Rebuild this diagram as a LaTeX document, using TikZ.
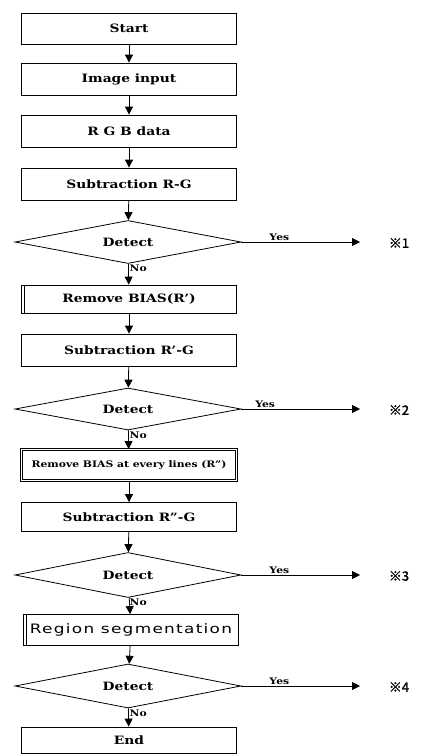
\documentclass[tikz,border=0pt]{standalone}
\usepackage{fontspec}
\setmainfont{DejaVu Serif}[FakeStretch=1.2]
\newfontfamily\regfont{DejaVu Sans}[FakeStretch=1.3,LetterSpace=10]
\newfontfamily\cjk{Noto Sans CJK JP}[FakeBold=1.5]
\usetikzlibrary{shapes.geometric,arrows.meta}
\tikzset{
  box/.style={draw, line width=0.8pt, minimum width=215pt, inner sep=0pt, font=\fontsize{11.5}{13}\selectfont\bfseries},
  dia/.style={draw, diamond, aspect=5, line width=0.8pt, minimum width=226pt, inner sep=0pt, font=\fontsize{11.5}{13}\selectfont\bfseries},
  arr/.style={line width=0.8pt, -{Triangle[width=8pt,length=8pt]}},
  yeslab/.style={font=\fontsize{9}{10}\selectfont\bfseries, inner sep=1pt},
  nolab/.style={font=\fontsize{9}{10}\selectfont\bfseries, inner sep=0pt},
  refmark/.style={font=\cjk\fontsize{13}{14}\selectfont, inner sep=0pt}
}
\begin{document}
\begin{tikzpicture}[x=1pt,y=-1pt]
\useasboundingbox[fill=white] (0,0) rectangle (421,755);
\node[box, minimum height=31pt] (start) at (129,28.5) {Start};
\node[box, minimum height=32pt] (input) at (129,79) {Image input};
\node[box, minimum height=32pt] (rgb) at (129,131) {R G B data};
\node[box, minimum height=32pt] (sub1) at (129,184) {Subtraction R-G};
\node[dia, minimum height=43pt] (det1) at (128,242) {Detect};
\node[box, minimum height=28pt] (rb1) at (129,299) {Remove BIAS(R')};
\node[box, minimum height=32pt] (sub2) at (129,350) {Subtraction R'-G};
\node[dia, minimum height=42pt] (det2) at (128,409) {Detect};
\node[box, minimum height=31pt, double, double distance=1.6pt, font=\fontsize{9}{10}\selectfont\bfseries] (rb2) at (129,465) {Remove BIAS at every lines (R'')};
\node[box, minimum height=29pt] (sub3) at (129,517) {Subtraction R''-G};
\node[dia, minimum height=45pt] (det3) at (128,575) {Detect};
\node[box, minimum height=31pt, font=\regfont\fontsize{13}{14}\selectfont] (reg) at (131,630) {Region segmentation};
\node[dia, minimum height=44pt] (det4) at (128,686) {Detect};
\node[box, minimum height=26pt] (end) at (129,740) {End};
% extra inner left lines
\draw[line width=0.8pt] ([xshift=3pt]rb1.north west) -- ([xshift=3pt]rb1.south west);
\draw[line width=0.8pt] ([xshift=3pt]reg.north west) -- ([xshift=3pt]reg.south west);
% main flow
\draw[arr] (start) -- (input);
\draw[arr] (input) -- (rgb);
\draw[arr] (rgb) -- (sub1);
\draw[arr] (sub1) -- (det1);
\draw[arr] (det1) -- (rb1);
\draw[arr] (rb1) -- (sub2);
\draw[arr] (sub2) -- (det2);
\draw[arr] (det2) -- (rb2);
\draw[arr] (rb2) -- (sub3);
\draw[arr] (sub3) -- (det3);
\draw[arr] (det3) -- (reg);
\draw[arr] (reg) -- (det4);
\draw[arr] (det4) -- (end);
% No labels
\node[nolab, anchor=north west] (no1) at ([xshift=1.5pt,yshift=-1pt]det1.south) {No};
\node[nolab, anchor=north west] (no2) at ([xshift=1.5pt,yshift=-1pt]det2.south) {No};
\node[nolab, anchor=north west] (no3) at ([xshift=1.5pt,yshift=-1pt]det3.south) {No};
\node[nolab, anchor=north west] (no4) at ([xshift=1.5pt,yshift=-1pt]det4.south) {No};
% Yes branches
\coordinate (e1) at (360,242);
\coordinate (e2) at (360,409);
\coordinate (e3) at (360,575);
\coordinate (e4) at (360,686);
\draw[arr] (det1.east) -- (e1) node[yeslab, pos=0.32, above] (y1) {Yes};
\draw[arr] (det2.east) -- (e2) node[yeslab, pos=0.2, above] (y2) {Yes};
\draw[arr] (det3.east) -- (e3) node[yeslab, pos=0.32, above] (y3) {Yes};
\draw[arr] (det4.east) -- (e4) node[yeslab, pos=0.32, above] (y4) {Yes};
\node[refmark] (m1) at (399,243) {※1};
\node[refmark] (m2) at (399,410) {※2};
\node[refmark] (m3) at (399,576) {※3};
\node[refmark] (m4) at (399,687) {※4};
\end{tikzpicture}
\end{document}
